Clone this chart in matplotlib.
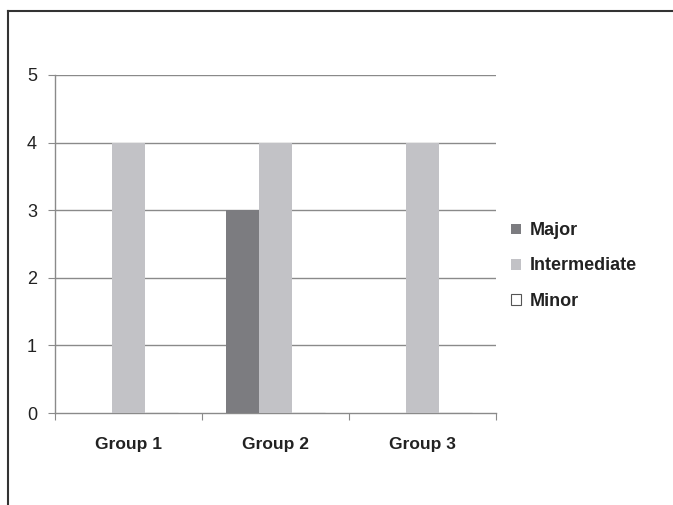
import matplotlib.pyplot as plt
import numpy as np
from matplotlib.lines import Line2D

# Chart data
groups = ['Group 1', 'Group 2', 'Group 3']
series = ['Major', 'Intermediate', 'Minor']
major = [0, 3, 0]
intermediate = [4, 4, 4]
minor = [0, 0, 0]
y_ticks = [0, 1, 2, 3, 4, 5]

colors = ['#7c7c80', '#c2c2c6', '#ffffff']

plt.rcParams['font.family'] = ['Liberation Sans', 'DejaVu Sans']

fig = plt.figure(figsize=(6.73, 5.05), dpi=100)
ax = fig.add_axes([55 / 673, 92 / 505, 441 / 673, 338 / 505])

x = np.arange(len(groups))
width = 0.225
for i, (name, vals) in enumerate(zip(series, [major, intermediate, minor])):
    ax.bar(x + (i - 1) * width, vals, width, color=colors[i],
           edgecolor='#555555' if name == 'Minor' else colors[i],
           linewidth=0.8 if name == 'Minor' else 0, label=name, zorder=3)

ax.set_xlim(-0.5, 2.5)
ax.set_ylim(0, 5)
ax.set_yticks(y_ticks)
ax.set_yticklabels([str(v) for v in y_ticks], fontsize=13, color='#222222')

# gridlines
for v in y_ticks[1:]:
    ax.axhline(v, color='#8a8a8a', linewidth=1.0, zorder=1)

# x ticks at group boundaries, labels centred
ax.set_xticks([-0.5, 0.5, 1.5, 2.5])
ax.set_xticklabels([])
ax.set_xticks(x, minor=True)
ax.set_xticklabels(groups, minor=True, fontsize=12.5, fontweight='bold', color='#222222')
ax.tick_params(axis='x', which='minor', length=0, pad=17)
ax.tick_params(axis='x', which='major', length=5, color='#8a8a8a', direction='out')
ax.tick_params(axis='y', length=5, color='#8a8a8a', direction='out', pad=8)

for s in ['top', 'right']:
    ax.spines[s].set_visible(False)
for s in ['left', 'bottom']:
    ax.spines[s].set_color('#8a8a8a')
    ax.spines[s].set_linewidth(1.0)

leg = fig.legend(loc='center left', bbox_to_anchor=(511 / 673, (505 - 266) / 505),
                 frameon=False, fontsize=13, handlelength=0.55, handleheight=0.55,
                 handletextpad=0.5, labelspacing=1.0, borderpad=0, borderaxespad=0)
for t in leg.get_texts():
    t.set_fontweight('bold')
    t.set_color('#222222')

# outer frame: top and left edges only
fig.add_artist(Line2D([7.5 / 673, 1], [1 - 11 / 505, 1 - 11 / 505],
                      transform=fig.transFigure, color='#333333', linewidth=1.5))
fig.add_artist(Line2D([7.5 / 673, 7.5 / 673], [0, 1 - 11 / 505],
                      transform=fig.transFigure, color='#333333', linewidth=1.5))

fig.savefig('out.png', dpi=100)
